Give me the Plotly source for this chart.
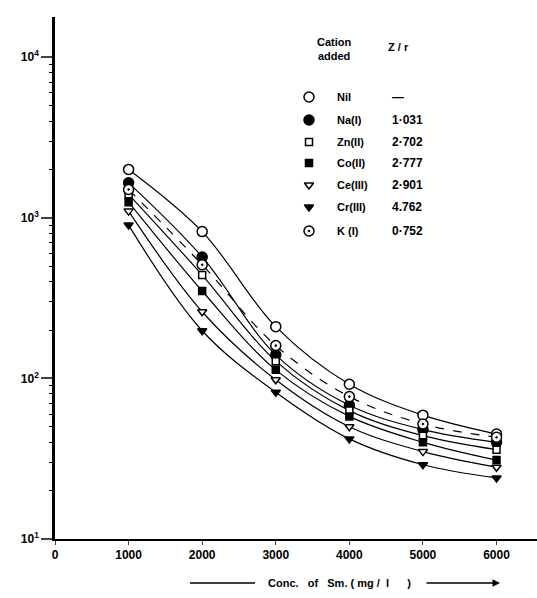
import plotly.graph_objects as go

conc = [1000, 2000, 3000, 4000, 5000, 6000]
nil = [2000, 820, 210, 92, 59, 45]
na = [1650, 570, 140, 68, 48, 40]
zn = [1400, 440, 128, 63, 44, 36]
co = [1250, 350, 113, 58, 40, 31]
ce = [1100, 260, 98, 50, 35, 28]
cr = [900, 198, 82, 42, 29, 24]
k = [1500, 510, 160, 77, 52, 43]

legend_names = ["Nil", "Na(I)", "Zn(II)", "Co(II)", "Ce(III)", "Cr(III)", "K (I)"]
legend_zr = ["—", "1·031", "2·702", "2·777", "2·901", "4.762", "0·752"]

x_ticks = [0, 1000, 2000, 3000, 4000, 5000, 6000]
y_ticks = [10, 100, 1000, 10000]
y_text = ["10<sup>1</sup>", "10<sup>2</sup>", "10<sup>3</sup>", "10<sup>4</sup>"]
y_minor = [m * d for d in (10, 100, 1000) for m in range(2, 10)] + [20000]

W, H = 537, 598
L, R, T, B = 55, 0, 17, 59
PW, PH = W - L - R, H - T - B

def px(x):
    return (x - L) / PW

def py(y):
    return (H - B - y) / PH

styles = [
    ("circle", "white", 10, "solid"),
    ("circle", "black", 10, "solid"),
    ("square", "white", 7, "solid"),
    ("square", "black", 7, "solid"),
    ("triangle-down", "white", 8, "solid"),
    ("triangle-down", "black", 8, "solid"),
    ("circle-dot", "white", 10, "dash"),
]
data = [nil, na, zn, co, ce, cr, k]

fig = go.Figure()
for vals, (sym, col, sz, dash) in zip(data, styles):
    fig.add_trace(go.Scatter(
        x=conc, y=vals, mode="lines+markers",
        line=dict(color="black", width=1.2, shape="spline", smoothing=1.0, dash=dash),
        marker=dict(symbol=sym, color=col, size=sz, line=dict(color="black", width=1.5)),
        showlegend=False))

# legend keys, drawn on an overlay axis spanning the plot area (0..1)
rows = [97, 120, 142, 163, 185, 207, 231]
for ry, (sym, col, sz, dash) in zip(rows, styles):
    fig.add_trace(go.Scatter(
        x=[px(309)], y=[py(ry)], xaxis="x2", yaxis="y2", mode="markers",
        marker=dict(symbol=sym, color=col, size=sz, line=dict(color="black", width=1.5)),
        showlegend=False, hoverinfo="skip"))

font = dict(family="Liberation Sans, DejaVu Sans", size=11, color="black", weight="bold")

fig.update_layout(
    width=W, height=H, margin=dict(l=L, r=R, t=T, b=B),
    plot_bgcolor="white", paper_bgcolor="white", font=font,
    xaxis=dict(range=[0, 6550], tickvals=x_ticks, ticks="outside", ticklen=4,
               tickwidth=1, showgrid=False, zeroline=False, showline=True,
               linecolor="black", linewidth=2, tickfont=dict(font, size=12)),
    yaxis=dict(type="log", range=[1, 4.25], tickvals=y_ticks, ticktext=y_text,
               ticks="outside", ticklen=11, tickwidth=1.5, showgrid=False,
               zeroline=False, showline=True, linecolor="black", linewidth=2.5,
               tickfont=dict(font, size=12),
               minor=dict(tickmode="array", tickvals=y_minor, ticks="outside",
                          ticklen=3, tickwidth=1, tickcolor="black", showgrid=False)),
    xaxis2=dict(overlaying="x", range=[0, 1], visible=False),
    yaxis2=dict(overlaying="y", range=[0, 1], visible=False),
)

def note(x, y, text, size, xanchor="left", align="left"):
    return dict(x=px(x), y=py(y), xref="paper", yref="paper", text=text,
                showarrow=False, font=dict(font, size=size), xanchor=xanchor,
                yanchor="middle", align=align)

ann = []
ann.append(note(334, 49, "Cation<br>added", 11, xanchor="center", align="center"))
ann.append(note(386, 47, "Z / r", 11))
for ry, nm, zr in zip(rows, legend_names, legend_zr):
    ann.append(note(335, ry, nm, 11))
    ann.append(note(390, ry, zr, 12))

ann.append(note(339, 583, "Conc.   of   Sm. ( mg /  l      )", 11,
                xanchor="center", align="center"))
ann.append(dict(x=px(500), y=py(583), xref="paper", yref="paper", text="",
                showarrow=True, ax=-75, ay=0, arrowhead=2, arrowsize=1,
                arrowwidth=1.5, arrowcolor="black"))
fig.update_layout(annotations=ann)
fig.add_shape(type="line", xref="paper", yref="paper", x0=px(190), x1=px(255),
              y0=py(583), y1=py(583), line=dict(color="black", width=1.5))

fig.write_html("out.html")
